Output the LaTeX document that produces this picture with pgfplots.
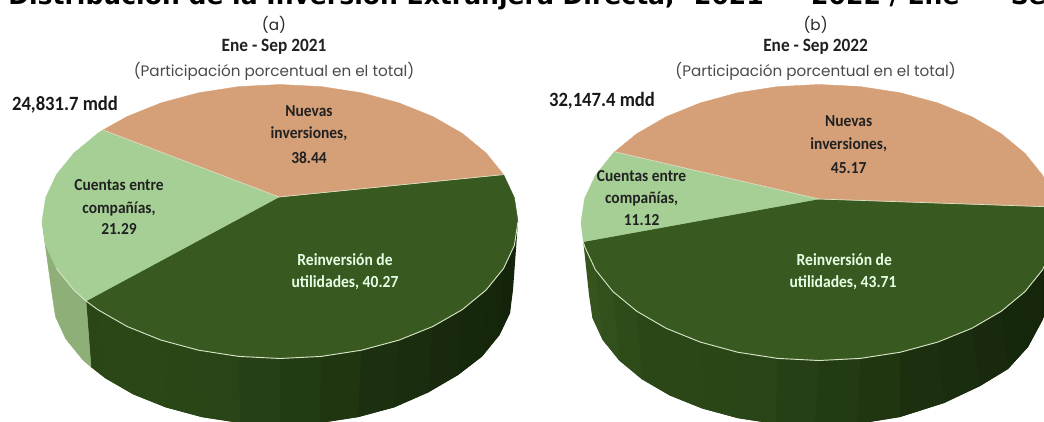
\documentclass[border=0pt]{standalone}
\usepackage{pgfplots}
\pgfplotsset{compat=1.18}
\usepackage{fontspec}
\setmainfont{Carlito}[FakeStretch=0.92]
\newfontfamily\pop{Poppins}
\newfontfamily\tit{DejaVu Sans}
\definecolor{naranja}{HTML}{D5A078}
\definecolor{claro}{HTML}{A6CF95}
\definecolor{oscuro}{HTML}{38591F}
\definecolor{ladoclaro}{HTML}{8FAF78}
\definecolor{borde}{HTML}{D8E4C8}
\definecolor{gris}{HTML}{4A4A4A}
\definecolor{sa}{HTML}{14240B}
\definecolor{sb}{HTML}{15260B}
\definecolor{sc}{HTML}{16280C}
\definecolor{sd}{HTML}{18290D}
\definecolor{se}{HTML}{1A2D0E}
\definecolor{sf}{HTML}{1C300F}
\definecolor{sg}{HTML}{203611}
\definecolor{sh}{HTML}{233B13}
\definecolor{si}{HTML}{263F14}
\definecolor{sj}{HTML}{294416}
\definecolor{sk}{HTML}{2A4617}
\definecolor{sl}{HTML}{2B4717}
\definecolor{sm}{HTML}{2E4B1A}
\definecolor{sn}{HTML}{31501C}
\definecolor{so}{HTML}{35541E}
\newcommand{\Q}[2]{\addplot[draw=none,fill=#1] coordinates {#2} -- cycle;}
\begin{document}
\begin{tikzpicture}
\path[use as bounding box,clip] (0,0) rectangle (783pt,315.75pt);
\begin{axis}[at={(0,0)},anchor=south west,scale only axis,width=783pt,height=315.75pt,
  xmin=0,xmax=1044,ymin=0,ymax=421,y dir=reverse,hide axis,clip=false]
% --- pie a: side
\Q{sa}{(518,221.5)(514.4,245.3)(503.6,268.4)(499.5,335)(510,313)(513,290)}
\Q{sa}{(514.4,245.3)(503.6,268.4)(486.1,290)(482,356.5)(499.5,335)(510,313)}
\Q{sb}{(503.6,268.4)(486.1,290)(462.3,309.6)(458,375)(482,356.5)(499.5,335)}
\Q{sc}{(486.1,290)(462.3,309.6)(433,326.4)(428,392.5)(458,375)(482,356.5)}
\Q{sd}{(462.3,309.6)(433,326.4)(399,340.1)(394,407.4)(428,392.5)(458,375)}
\Q{se}{(433,326.4)(399,340.1)(361.4,350.2)(358,417.1)(394,407.4)(428,392.5)}
\Q{sf}{(399,340.1)(361.4,350.2)(321.3,356.4)(319.6,423)(358,417.1)(394,407.4)}
\Q{sg}{(361.4,350.2)(321.3,356.4)(280,358.5)(280,425)(319.6,423)(358,417.1)}
\Q{sh}{(321.3,356.4)(280,358.5)(238.7,356.4)(240.4,423)(280,425)(319.6,423)}
\Q{si}{(280,358.5)(238.7,356.4)(198.6,350.2)(202,417.1)(240.4,423)(280,425)}
\Q{sj}{(238.7,356.4)(198.6,350.2)(161,340.1)(166,407.4)(202,417.1)(240.4,423)}
\Q{sk}{(198.6,350.2)(161,340.1)(127,326.4)(133.4,394.4)(166,407.4)(202,417.1)}
\Q{sl}{(161,340.1)(127,326.4)(97.7,309.6)(105.3,378.2)(133.4,394.4)(166,407.4)}
\Q{sl}{(127,326.4)(97.7,309.6)(86,301)(91,367)(105.3,378.2)(133.4,394.4)}
\Q{sk}{(97.7,309.6)(86,301)(91,367)(105.3,378.2)}
\addplot[draw=ladoclaro,fill=ladoclaro,line width=0.3pt] coordinates {(86,301)(73.9,290)(56.4,268.4)(45.6,245.3)(42,221.5)(52,294)(55.5,316.7)(65.7,338.8)(82.5,359.5)(91,367)} -- cycle;
% --- pie a: top
\addplot[draw=oscuro,fill=oscuro,line width=0.3pt] coordinates {(279,197)(503.6,174.6)(514.4,197.7)(518,221.5)(514.4,245.3)(503.6,268.4)(486.1,290)(462.3,309.6)(433,326.4)(399,340.1)(361.4,350.2)(321.3,356.4)(280,358.5)(238.7,356.4)(198.6,350.2)(161,340.1)(127,326.4)(97.7,309.6)(86,301)} -- cycle;
\addplot[draw=claro,fill=claro,line width=0.3pt] coordinates {(279,197)(86,301)(73.9,290)(56.4,268.4)(45.6,245.3)(42,221.5)(45.6,197.7)(56.4,174.6)(73.9,153)(97.7,133.4)(103,130)} -- cycle;
\addplot[draw=naranja,fill=naranja,line width=0.3pt] coordinates {(279,197)(103,130)(127,116.6)(161,102.9)(198.6,92.8)(238.7,86.6)(280,84.5)(321.3,86.6)(361.4,92.8)(399,102.9)(433,116.6)(462.3,133.4)(486.1,153)(503.6,174.6)} -- cycle;
\addplot[borde,line width=0.7pt] coordinates {(518,221.5)(514.4,245.3)(503.6,268.4)(486.1,290)(462.3,309.6)(433,326.4)(399,340.1)(361.4,350.2)(321.3,356.4)(280,358.5)(238.7,356.4)(198.6,350.2)(161,340.1)(127,326.4)(97.7,309.6)(86,301)(73.9,290)(56.4,268.4)};
\addplot[borde,line width=0.5pt] coordinates {(103,130)(279,197)(503.6,174.6)};
% --- pie b: side
\Q{sa}{(1057,222.5)(1053.4,246.5)(1042.6,269.7)(1042,321)(1052,297)(1058,275)}
\Q{sa}{(1053.4,246.5)(1042.6,269.7)(1025.1,291.5)(1028,347)(1042,321)(1052,297)}
\Q{sb}{(1042.6,269.7)(1025.1,291.5)(1001.3,311.2)(1008,369)(1028,347)(1042,321)}
\Q{sc}{(1025.1,291.5)(1001.3,311.2)(972,328.2)(980,386)(1008,369)(1028,347)}
\Q{sd}{(1001.3,311.2)(972,328.2)(938,342)(944,403)(980,386)(1008,369)}
\Q{se}{(972,328.2)(938,342)(900.4,352.2)(900,417)(944,403)(980,386)}
\Q{sf}{(938,342)(900.4,352.2)(860.3,358.4)(857,424)(900,417)(944,403)}
\Q{sg}{(900.4,352.2)(860.3,358.4)(819,360.5)(815,426)(857,424)(900,417)}
\Q{sh}{(860.3,358.4)(819,360.5)(777.7,358.4)(775.8,424)(815,426)(857,424)}
\Q{si}{(819,360.5)(777.7,358.4)(737.6,352.2)(737.7,418.1)(775.8,424)(815,426)}
\Q{sj}{(777.7,358.4)(737.6,352.2)(700,342)(702,408.4)(737.7,418.1)(775.8,424)}
\Q{sk}{(737.6,352.2)(700,342)(666,328.2)(669.7,395.4)(702,408.4)(737.7,418.1)}
\Q{sl}{(700,342)(666,328.2)(636.7,311.2)(641.9,379.2)(669.7,395.4)(702,408.4)}
\Q{sl}{(666,328.2)(636.7,311.2)(612.9,291.5)(619.3,360.5)(641.9,379.2)(669.7,395.4)}
\Q{sm}{(636.7,311.2)(612.9,291.5)(595.4,269.7)(602.6,339.8)(619.3,360.5)(641.9,379.2)}
\Q{sn}{(612.9,291.5)(595.4,269.7)(584.6,246.5)(592.4,317.7)(602.6,339.8)(619.3,360.5)}
\Q{so}{(595.4,269.7)(584.6,246.5)(583.3,241.7)(589,295)(592.4,317.7)(602.6,339.8)}
% --- pie b: top
\addplot[draw=oscuro,fill=oscuro,line width=0.3pt] coordinates {(819,199)(1055.5,207)(1057,222.5)(1053.4,246.5)(1042.6,269.7)(1025.1,291.5)(1001.3,311.2)(972,328.2)(938,342)(900.4,352.2)(860.3,358.4)(819,360.5)(777.7,358.4)(737.6,352.2)(700,342)(666,328.2)(636.7,311.2)(612.9,291.5)(595.4,269.7)(584.6,246.5)(583.3,241.7)} -- cycle;
\addplot[draw=claro,fill=claro,line width=0.3pt] coordinates {(819,199)(583.3,241.7)(581,222.5)(584.6,198.5)(595.4,175.3)(612.9,153.5)(614.6,151.8)} -- cycle;
\addplot[draw=naranja,fill=naranja,line width=0.3pt] coordinates {(819,199)(614.6,151.8)(636.7,133.8)(666,116.8)(700,103)(737.6,92.8)(777.7,86.6)(819,84.5)(860.3,86.6)(900.4,92.8)(938,103)(972,116.8)(1001.3,133.8)(1025.1,153.5)(1042.6,175.3)(1053.4,198.5)(1055.5,207)} -- cycle;
\addplot[borde,line width=0.7pt] coordinates {(1053.4,246.5)(1042.6,269.7)(1025.1,291.5)(1001.3,311.2)(972,328.2)(938,342)(900.4,352.2)(860.3,358.4)(819,360.5)(777.7,358.4)(737.6,352.2)(700,342)(666,328.2)(636.7,311.2)(612.9,291.5)(595.4,269.7)(584.6,246.5)(583.3,241.7)};
\addplot[borde,line width=0.5pt] coordinates {(614.6,151.8)(819,199)(1055.5,207)};
% --- texts
\node[anchor=base west,font=\tit\bfseries\fontsize{18.8pt}{20pt}\selectfont,inner sep=0pt] at (8,4.5) {Distribución de la Inversión Extranjera Directa,\hspace{8pt} 2021\hspace{2pt} – \hspace{11pt}2022 / Ene\hspace{11pt} – \hspace{5pt}Sep};
\tikzset{lab/.style={font=\bfseries\fontsize{12.6pt}{14pt}\selectfont,text=black!87,inner sep=0pt}}
\tikzset{enc/.style={font=\bfseries\fontsize{14.1pt}{16pt}\selectfont,text=black!87,inner sep=0pt}}
\tikzset{mdd/.style={font=\bfseries\fontsize{15.2pt}{17pt}\selectfont,text=black!90,inner sep=0pt}}
\tikzset{sub/.style={font=\pop\fontsize{11.4pt}{13pt}\selectfont,text=gris,inner sep=0pt}}
\tikzset{wl/.style={font=\bfseries\fontsize{12.7pt}{14pt}\selectfont,text=white!90!green,inner sep=0pt}}
\node[sub,text=black!85] at (274,25) {(a)};
\node[enc] at (274,47) {Ene - Sep 2021};
\node[sub] at (274,71) {(Participación porcentual en el total)};
\node[mdd] at (65,105) {24,831.7 mdd};
\node[lab] at (309,111) {Nuevas};
\node[lab] at (309,134) {inversiones,};
\node[lab] at (309,158) {38.44};
\node[lab] at (119,185) {Cuentas entre};
\node[lab] at (119,209) {compañías,};
\node[lab] at (119,229) {21.29};
\node[wl] at (345,260) {Reinversión de};
\node[wl] at (345,283) {utilidades, 40.27};
\node[sub,text=black!85] at (815.6,25) {(b)};
\node[enc] at (815.6,47) {Ene - Sep 2022};
\node[sub] at (815.6,71) {(Participación porcentual en el total)};
\node[mdd] at (602,101) {32,147.4 mdd};
\node[lab] at (848.7,121) {Nuevas};
\node[lab] at (848.7,144.6) {inversiones,};
\node[lab] at (848.7,168) {45.17};
\node[lab] at (641.6,176) {Cuentas entre};
\node[lab] at (641.6,199) {compañías,};
\node[lab] at (641.6,220) {11.12};
\node[wl] at (844.3,260) {Reinversión de};
\node[wl] at (843,283) {utilidades, 43.71};
\end{axis}
\end{tikzpicture}
\end{document}
